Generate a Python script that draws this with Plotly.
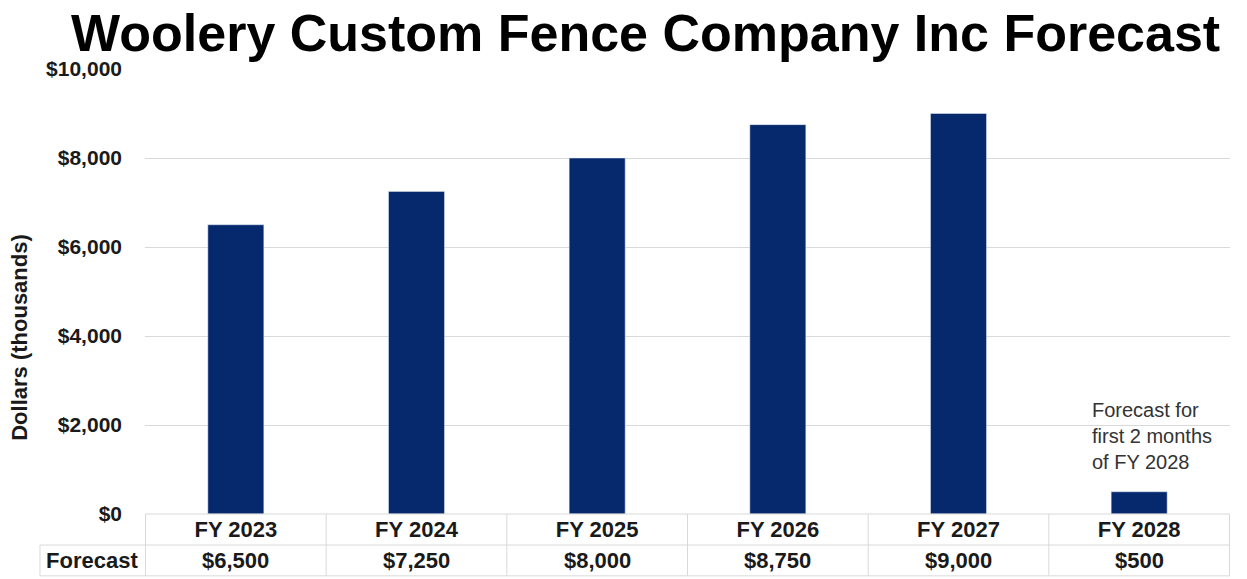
import plotly.graph_objects as go

# Data
years = ['FY 2023', 'FY 2024', 'FY 2025', 'FY 2026', 'FY 2027', 'FY 2028']
forecast = [6500, 7250, 8000, 8750, 9000, 500]
row_label = 'Forecast'
note_text = 'Forecast for<br>first 2 months<br>of FY 2028'

BAR_COLOR = '#06296E'
GRID = '#D9D9D9'
TXT = '#1a1a1a'
FONT = 'Liberation Sans, Arial, sans-serif'

fig = go.Figure()
fig.add_trace(go.Bar(
    x=years,
    y=forecast,
    width=0.31,
    marker=dict(color=BAR_COLOR),
    hovertemplate='<b>%{x}</b><br>$%{y:,.0f}<extra></extra>',
))

# data table under the chart (cell borders)
y_mid, y_bot, x_left = -0.0697, -0.139, -0.0968
line = dict(color=GRID, width=1)
n = len(years)
for i in range(n + 1):
    fig.add_shape(type='line', xref='x', yref='paper', x0=i - 0.5, x1=i - 0.5,
                  y0=0, y1=y_bot, line=line)
fig.add_shape(type='line', xref='paper', yref='paper', x0=x_left, x1=x_left,
              y0=y_mid, y1=y_bot, line=line)
fig.add_shape(type='line', xref='paper', yref='paper', x0=0, x1=1,
              y0=0, y1=0, line=line)
for yy in (y_mid, y_bot):
    fig.add_shape(type='line', xref='paper', yref='paper', x0=x_left, x1=1,
                  y0=yy, y1=yy, line=line)

# table values
row_y = (y_mid + y_bot) / 2
for yr, v in zip(years, forecast):
    fig.add_annotation(x=yr, xref='x', xanchor='center', y=row_y, yref='paper',
                       yanchor='middle', text=f'<b>${v:,}</b>', showarrow=False,
                       font=dict(size=22, color=TXT))
fig.add_annotation(x=x_left / 2, xref='paper', xanchor='center', y=row_y, yref='paper',
                   yanchor='middle', text=f'<b>{row_label}</b>', showarrow=False,
                   font=dict(size=22, color=TXT))

# note above FY 2028 bar
fig.add_annotation(x=0.871, xref='paper', xanchor='left', y=0.262, yref='paper',
                   yanchor='top', text=note_text, showarrow=False, align='left',
                   font=dict(size=20, color='#333333'))

# y axis title (sits a little below the middle in the original)
fig.add_annotation(x=-0.1152, xref='paper', xanchor='center', y=0.396, yref='paper',
                   yanchor='middle', text='<b>Dollars (thousands)</b>', textangle=-90,
                   showarrow=False, font=dict(size=22, color=TXT))

fig.update_layout(
    width=1231,
    height=571,
    margin=dict(l=137, r=9, t=61, b=65),
    paper_bgcolor='white',
    plot_bgcolor='white',
    font=dict(family=FONT, color=TXT),
    showlegend=False,
    title=dict(
        text='<b>Woolery Custom Fence Company Inc Forecast</b>',
        x=0.518, xanchor='center', y=0.957, yanchor='middle',
        font=dict(size=52, color='black'),
    ),
    xaxis=dict(
        showgrid=False, showline=False, ticks='',
        tickfont=dict(size=22, color=TXT, weight='bold'),
        ticklabelstandoff=0,
    ),
    yaxis=dict(
        range=[0, 10000], dtick=2000, tickformat='$,.0f',
        showgrid=True, gridcolor=GRID, zeroline=False, showline=False,
        tickfont=dict(size=21, color=TXT, weight='bold'),
        ticklabelstandoff=22,
    ),
)

fig.write_html('out.html')
